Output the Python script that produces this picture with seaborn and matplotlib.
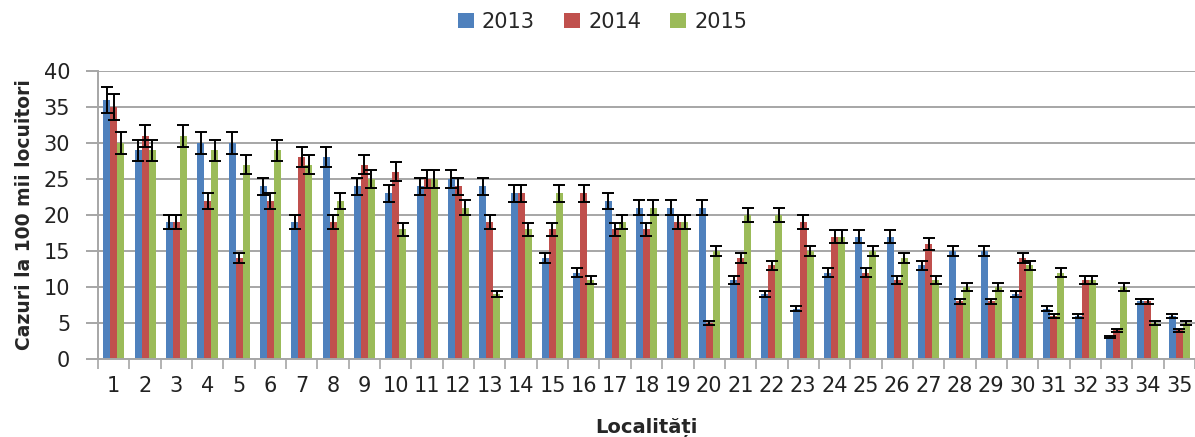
import numpy as np
import pandas as pd
import matplotlib
matplotlib.use("Agg")
import matplotlib.pyplot as plt
from matplotlib.ticker import MultipleLocator, FixedLocator
import seaborn as sns

# Incidence per 100k inhabitants, by locality and year
localities = [str(i) for i in range(1, 36)]
years = ["2013", "2014", "2015"]
cases_2013 = [36, 29, 19, 30, 30, 24, 19, 28, 24, 23, 24, 25, 24, 23, 14, 12, 22, 21,
              21, 21, 11, 9, 7, 12, 17, 17, 13, 15, 15, 9, 7, 6, 3, 8, 6]
cases_2014 = [35, 31, 19, 22, 14, 22, 28, 19, 27, 26, 25, 24, 19, 23, 18, 23, 18, 18,
              19, 5, 14, 13, 19, 17, 12, 11, 16, 8, 8, 14, 6, 11, 4, 8, 4]
cases_2015 = [30, 29, 31, 29, 27, 29, 27, 22, 25, 18, 25, 21, 9, 18, 23, 11, 19, 21,
              19, 15, 20, 20, 15, 17, 15, 14, 11, 10, 10, 13, 12, 11, 10, 5, 5]
colors = ["#4F81BD", "#C0504D", "#9BBB59"]
rel_error = 0.05  # 5% error bars

df = pd.DataFrame({
    "Localitate": localities * 3,
    "An": np.repeat(years, len(localities)),
    "Cazuri": cases_2013 + cases_2014 + cases_2015,
})

sns.set_theme(style="white")
plt.rcParams["font.family"] = ["DejaVu Sans"]

fig = plt.figure(figsize=(11.95, 4.37), dpi=100)
ax = fig.add_axes([0.082, 0.1785, 0.918, 0.659])

sns.barplot(
    data=df, x="Localitate", y="Cazuri", hue="An",
    order=localities, hue_order=years, palette=colors,
    width=0.67, saturation=1, linewidth=0, errorbar=None, ax=ax,
)

# Percentage error bars on top of each bar
bar_containers = list(ax.containers)
for container in bar_containers:
    xs = [p.get_x() + p.get_width() / 2 for p in container.patches]
    hs = np.array([p.get_height() for p in container.patches])
    ax.errorbar(xs, hs, yerr=hs * rel_error, fmt="none", ecolor="black",
                elinewidth=1.4, capsize=4.3, capthick=1.4, zorder=4)

grid_c = "#A6A6A6"
ax.set_ylim(0, 40)
ax.set_xlim(-0.5, len(localities) - 0.5)
ax.yaxis.set_major_locator(MultipleLocator(5))
ax.grid(axis="y", color=grid_c, linewidth=1.4)
ax.set_axisbelow(True)

for side in ["top", "right"]:
    ax.spines[side].set_visible(False)
for side in ["left", "bottom"]:
    ax.spines[side].set_color(grid_c)
    ax.spines[side].set_linewidth(1.4)

ax.xaxis.set_minor_locator(FixedLocator(np.arange(-0.5, len(localities), 1.0)))
ax.tick_params(axis="x", which="major", length=0, labelsize=15, pad=12, colors="#222222")
ax.tick_params(axis="x", which="minor", length=7, width=1.2, color=grid_c, bottom=True)
ax.tick_params(axis="y", which="major", length=9, width=1.4, color=grid_c,
               labelsize=15, labelcolor="#222222", left=True, pad=11)

ax.set_xlabel("Localități", fontsize=14, fontweight="bold", labelpad=16)
ax.set_ylabel("Cazuri la 100 mii locuitori", fontsize=13.5, fontweight="bold", labelpad=7)

ax.legend(loc="center", bbox_to_anchor=(0.46, 1.17), ncol=3, frameon=False,
          fontsize=15, handlelength=0.75, handleheight=0.75, handletextpad=0.4,
          columnspacing=1.4)

fig.savefig("out.png", dpi=100)
